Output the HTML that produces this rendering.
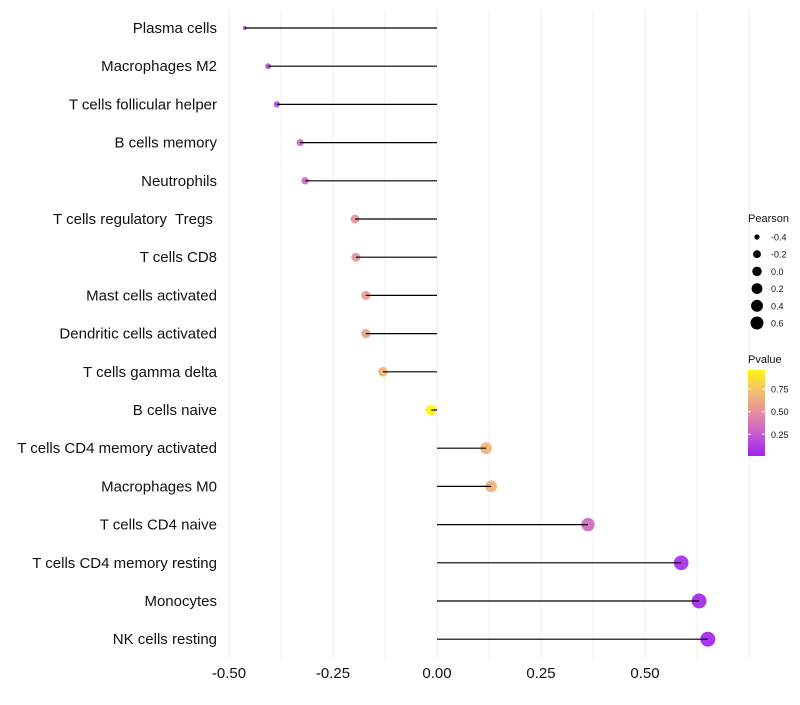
<!DOCTYPE html>
<html><head><meta charset="utf-8"><style>
body{margin:0;background:#fff;font-family:"Liberation Sans",sans-serif;}
</style></head><body>
<svg id="chart" width="800" height="700" xmlns="http://www.w3.org/2000/svg" font-family="Liberation Sans, sans-serif"></svg>
<script>
const categories=["Plasma cells","Macrophages M2","T cells follicular helper","B cells memory","Neutrophils","T cells regulatory  Tregs ","T cells CD8","Mast cells activated","Dendritic cells activated","T cells gamma delta","B cells naive","T cells CD4 memory activated","Macrophages M0","T cells CD4 naive","T cells CD4 memory resting","Monocytes","NK cells resting"];
const pearson=[-0.462,-0.406,-0.385,-0.329,-0.317,-0.197,-0.195,-0.171,-0.171,-0.130,-0.014,0.118,0.130,0.363,0.587,0.630,0.651];
const pvalue=[0.15,0.2,0.2,0.33,0.33,0.52,0.52,0.58,0.58,0.7,0.97,0.7,0.68,0.32,0.05,0.03,0.02];
const xTicks=[-0.5,-0.25,0,0.25,0.5];
const xTickLabels=["-0.50","-0.25","0.00","0.25","0.50"];
const sizeLegend=[-0.4,-0.2,0.0,0.2,0.4,0.6];
const sizeLegendLabels=["-0.4","-0.2","0.0","0.2","0.4","0.6"];
const colorTicks=[0.25,0.5,0.75];
const colorTickLabels=["0.25","0.50","0.75"];

const svg=document.getElementById('chart');
const NS="http://www.w3.org/2000/svg";
const x=v=>437+v*416;
const y=i=>28+i*38.2;
const r=v=>1.5+6*Math.sqrt(Math.max(0,(v+0.47)/1.12));
const stops=[[0,[160,32,240]],[0.25,[196,90,210]],[0.5,[228,142,160]],[0.75,[242,190,110]],[1,[255,255,0]]];
function col(p){for(let k=1;k<stops.length;k++){if(p<=stops[k][0]){const a=stops[k-1],b=stops[k],t=(p-a[0])/(b[0]-a[0]);return 'rgb('+a[1].map((c,j)=>Math.round(c+(b[1][j]-c)*t)).join(',')+')';}}return 'rgb(255,255,0)';}
function el(t,attrs,name,txt){const e=document.createElementNS(NS,t);for(const k in attrs)e.setAttribute(k,attrs[k]);


if(txt!==undefined)e.textContent=txt;svg.appendChild(e);return e;}
for(let v=-0.5;v<=0.751;v+=0.125){el('line',{x1:x(v),x2:x(v),y1:10,y2:660,stroke:'#efefef','stroke-width':1},'grid-line-x');}
xTicks.forEach((v,i)=>{el('text',{x:x(v),y:678,'text-anchor':'middle','font-size':15,fill:'#111'},'x-tick-label',xTickLabels[i]);});
categories.forEach((c,i)=>{
 el('text',{x:217,y:y(i)+5,'text-anchor':'end','font-size':15,fill:'#111',style:'white-space:pre'},'y-category-label',c);
 el('circle',{cx:x(pearson[i]),cy:y(i),r:r(pearson[i]),fill:col(pvalue[i]),'fill-opacity':0.92},'lollipop-point');
 el('line',{x1:x(0),x2:x(pearson[i]),y1:y(i),y2:y(i),stroke:'#000','stroke-width':1.2},'lollipop-stem');
});
el('text',{x:748,y:222,'font-size':11,fill:'#111'},'size-legend-title','Pearson');
sizeLegend.forEach((v,i)=>{const cy=237+i*17.2;
 el('circle',{cx:757,cy:cy,r:r(v)*0.88,fill:'#000'},'size-legend-key');
 el('text',{x:771,y:cy+3.5,'font-size':9,fill:'#111'},'size-legend-label',sizeLegendLabels[i]);});
el('text',{x:748,y:363,'font-size':11,fill:'#111'},'color-legend-title','Pvalue');
const defs=document.createElementNS(NS,'defs');defs.innerHTML='<linearGradient id="g" x1="0" y1="1" x2="0" y2="0"><stop offset="0" stop-color="'+col(0.01)+'"/><stop offset="0.25" stop-color="'+col(0.25)+'"/><stop offset="0.5" stop-color="'+col(0.5)+'"/><stop offset="0.75" stop-color="'+col(0.75)+'"/><stop offset="1" stop-color="'+col(0.96)+'"/></linearGradient>';svg.appendChild(defs);
el('rect',{x:748,y:370,width:17,height:86,fill:'url(#g)'},'color-legend-bar');
const py=p=>456-(p-0.01)/(0.95)*86;
colorTicks.forEach((p,i)=>{el('line',{x1:748,x2:751,y1:py(p),y2:py(p),stroke:'#fff'},'color-legend-tick');el('line',{x1:762,x2:765,y1:py(p),y2:py(p),stroke:'#fff'},'color-legend-tick');
 el('text',{x:771,y:py(p)+3.5,'font-size':9,fill:'#111'},'color-legend-label',colorTickLabels[i]);});
</script>
</body></html>
